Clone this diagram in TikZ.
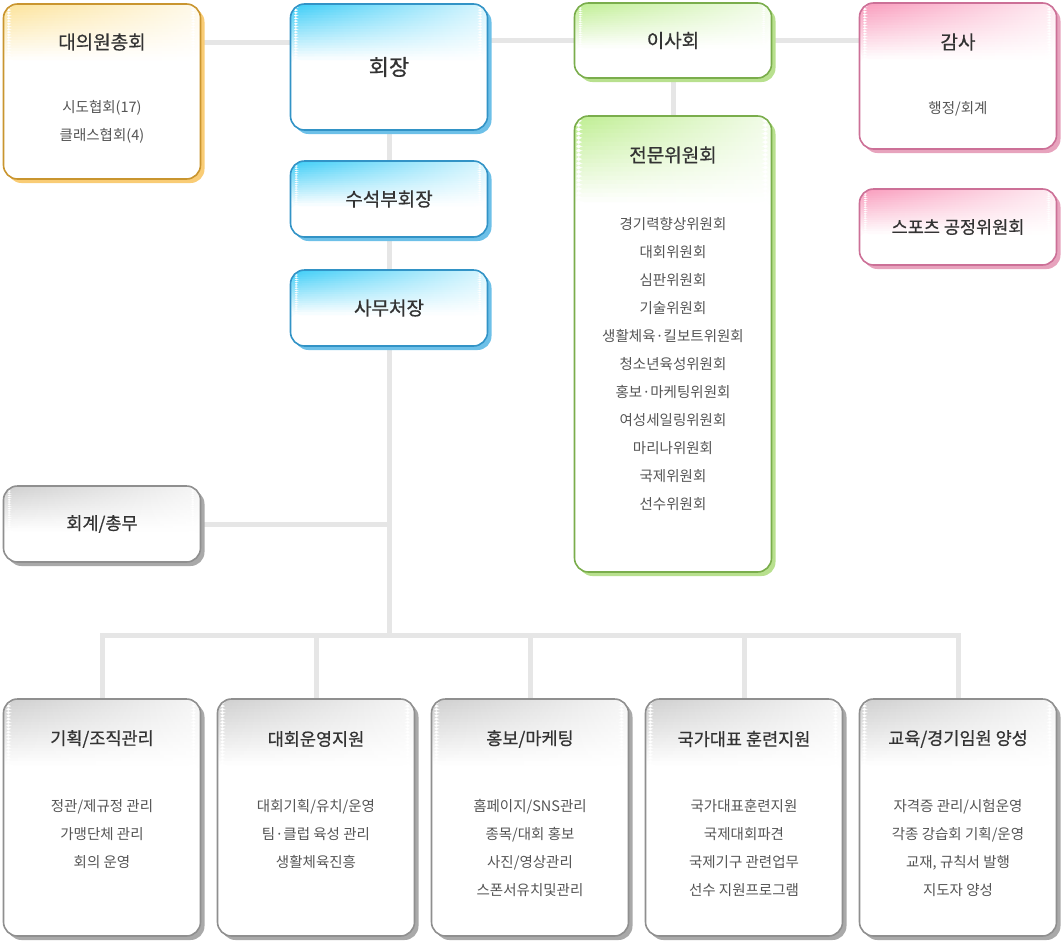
\documentclass[tikz,border=0pt]{standalone}
\usepackage{fontspec}
\setmainfont{Noto Sans CJK KR}
\newfontfamily\titlefont{Noto Sans CJK KR}[FakeBold=0.6]
\usetikzlibrary{shadows,backgrounds}

\definecolor{titlegray}{HTML}{333333}
\definecolor{itemgray}{HTML}{555555}
\definecolor{linegray}{HTML}{E6E6E6}
\definecolor{blueline}{HTML}{3293C6}
\definecolor{blueshade}{HTML}{6DC0E8}
\definecolor{bluetop}{HTML}{3CCDF7}
\definecolor{goldline}{HTML}{C9952F}
\definecolor{goldshade}{HTML}{F9CC75}
\definecolor{goldtop}{HTML}{FCE39A}
\definecolor{greenline}{HTML}{7AAD4C}
\definecolor{greenshade}{HTML}{B8E08E}
\definecolor{greentop}{HTML}{BFEE92}
\definecolor{pinkline}{HTML}{CC7097}
\definecolor{pinkshade}{HTML}{E7A3BD}
\definecolor{pinktop}{HTML}{F99BBC}
\definecolor{grayline}{HTML}{8F8F8F}
\definecolor{grayshade}{HTML}{A9A9A9}
\definecolor{graytop}{HTML}{CFCFCF}

\tikzset{
  box/.style={draw, line width=1.6pt, rounded corners=14pt, fill=white,
    minimum width=197pt, text=titlegray, font=\titlefont\fontsize{19}{22}\selectfont},
  % top fade, drawn as thin strips, each one shaded from left to right
  tint/.style 2 args={path picture={
    \pgfmathsetmacro\striph{#2/20}
    \foreach \k in {0,...,19} {
      \pgfmathsetmacro\pl{100-5*\k}
      \pgfmathsetmacro\pr{(100-5*\k)*0.2}
      \shade[draw=none, left color=#1!\pl!white, right color=#1!\pr!white]
        ([xshift=-2pt, yshift={-\k*\striph}]path picture bounding box.north west) rectangle
        ([yshift={-(\k+1)*\striph-1.2}]path picture bounding box.north east);
    }}},
  shadowed/.style={drop shadow={shadow xshift=4pt, shadow yshift=-4pt,
    fill=#1, opacity=1}},
  bluebox/.style={box, draw=blueline, tint={bluetop}{44pt}, shadowed=blueshade},
  goldbox/.style={box, draw=goldline, tint={goldtop}{55pt}, shadowed=goldshade},
  greenbox/.style={box, draw=greenline, tint={greentop}{44pt}, shadowed=greenshade},
  pinkbox/.style={box, draw=pinkline, tint={pinktop}{44pt}, shadowed=pinkshade},
  graybox/.style={box, draw=grayline, tint={graytop}{44pt}, shadowed=grayshade},
  title/.style={text=titlegray, font=\titlefont\fontsize{19}{22}\selectfont},
  subtitle/.style={text=titlegray, font=\titlefont\fontsize{17.5}{21}\selectfont},
  items/.style={align=center, text=itemgray, font=\fontsize{14.5}{28}\selectfont},
  link/.style={draw=linegray, line width=5pt}
}

\begin{document}
\begin{tikzpicture}[x=1pt,y=-1pt]
\useasboundingbox (0,0) rectangle (1063,940);

% top row
\node[goldbox, minimum height=175pt] (dae) at (102,91.5) {};
\node[title] (daetitle) at (102,42) {대의원총회};
\node[items] (daeitems) at (102,122) {시도협회(17)\\클래스협회(4)};

\node[bluebox, minimum height=126pt, font=\titlefont\fontsize{22}{26}\selectfont, tint={bluetop}{55pt}] (pres) at (389,67) {회장};
\node[bluebox, minimum height=76pt] (vice) at (389,199) {수석부회장};
\node[bluebox, minimum height=76pt] (sec) at (389,308) {사무처장};

\node[greenbox, minimum height=75pt] (board) at (673,40.5) {이사회};
\node[greenbox, minimum height=456pt, tint={greentop}{85pt}] (comm) at (673,344) {};
\node[title] (commtitle) at (673,155) {전문위원회};
\node[items] (commitems) at (673,364) {경기력향상위원회\\대회위원회\\심판위원회\\기술위원회\\생활체육·킬보트위원회\\청소년육성위원회\\홍보·마케팅위원회\\여성세일링위원회\\마리나위원회\\국제위원회\\선수위원회};

\node[pinkbox, minimum height=146pt, tint={pinktop}{55pt}] (audit) at (958,76) {};
\node[title] (audittitle) at (958,42) {감사};
\node[items] (audititems) at (958,109) {행정/회계};
\node[pinkbox, minimum height=76pt, font=\titlefont\fontsize{17.5}{21}\selectfont] (fair) at (958,227) {스포츠 공정위원회};

\node[graybox, minimum height=76pt, font=\titlefont\fontsize{17.5}{21}\selectfont] (acct) at (102,524) {회계/총무};

% bottom row
\node[graybox, minimum height=237pt, tint={graytop}{65pt}] (plan) at (102,817.5) {};
\node[subtitle] (plantitle) at (102,739) {기획/조직관리};
\node[items] (planitems) at (102,834) {정관/제규정 관리\\가맹단체 관리\\회의 운영};

\node[graybox, minimum height=237pt, tint={graytop}{65pt}] (event) at (316,817.5) {};
\node[subtitle] (eventtitle) at (316,739) {대회운영지원};
\node[items] (eventitems) at (316,834) {대회기획/유치/운영\\팀·클럽 육성 관리\\생활체육진흥};

\node[graybox, minimum height=237pt, tint={graytop}{65pt}] (promo) at (530,817.5) {};
\node[subtitle] (promotitle) at (530,739) {홍보/마케팅};
\node[items] (promoitems) at (530,848) {홈페이지/SNS관리\\종목/대회 홍보\\사진/영상관리\\스폰서유치및관리};

\node[graybox, minimum height=237pt, tint={graytop}{65pt}] (natl) at (744,817.5) {};
\node[subtitle] (natltitle) at (744,739) {국가대표 훈련지원};
\node[items] (natlitems) at (744,848) {국가대표훈련지원\\국제대회파견\\국제기구 관련업무\\선수 지원프로그램};

\node[graybox, minimum height=237pt, tint={graytop}{65pt}] (edu) at (958,817.5) {};
\node[subtitle] (edutitle) at (958,739) {교육/경기임원 양성};
\node[items] (eduitems) at (958,848) {자격증 관리/시험운영\\각종 강습회 기획/운영\\교재, 규칙서 발행\\지도자 양성};

\coordinate (hub) at (pres.south |- 0,635);

% connectors
\begin{scope}[on background layer]
\draw[link] (daetitle -| dae.east) -- (daetitle -| pres.west);
\draw[link] (pres.east |- board) -- (board.west);
\draw[link] (board.east) -- (board -| audit.west);
\draw[link] (board.south) -- (comm.north);
\draw[link] (pres.south) -- (hub);
\draw[link] (acct.east) -- (acct -| hub);
\draw[link] (plan.north) -- (plan |- hub) -- (edu |- hub) -- (edu.north);
\draw[link] (event |- hub) -- (event.north);
\draw[link] (promo |- hub) -- (promo.north);
\draw[link] (natl |- hub) -- (natl.north);
\end{scope}
\end{tikzpicture}
\end{document}
